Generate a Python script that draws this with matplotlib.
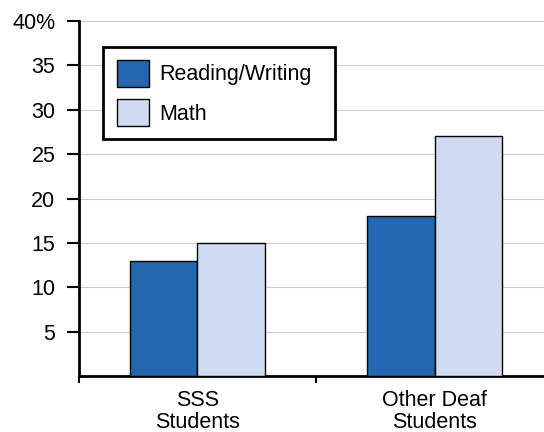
import numpy as np
import matplotlib.pyplot as plt

groups = ['SSS\nStudents', 'Other Deaf\nStudents']
reading = [13, 18]
math = [15, 27]
series_names = ['Reading/Writing', 'Math']
yticks = [5, 10, 15, 20, 25, 30, 35, 40]
ylabels = ['5', '10', '15', '20', '25', '30', '35', '40%']

plt.rcParams['font.family'] = ['Liberation Sans', 'DejaVu Sans']
fs = 15.5

fig = plt.figure(figsize=(5.44, 4.32), dpi=100)
ax = fig.add_axes([0.1452, 0.1296, 0.8548, 0.8218])

x = np.arange(len(groups)) + 0.5
w = 0.283
ax.bar(x - w / 2, reading, w, color='#2566b0', edgecolor='black', linewidth=1, label=series_names[0], zorder=3)
ax.bar(x + w / 2, math, w, color='#cfdbf0', edgecolor='black', linewidth=1, label=series_names[1], zorder=3)

ax.set_xlim(0, 1.962)
ax.set_ylim(0, 40)
ax.set_yticks(yticks)
ax.set_yticklabels(ylabels, fontsize=fs)
ax.yaxis.grid(True, color='#cccccc', linewidth=0.8, zorder=0)

# ticks at group boundaries, labels at centres
ax.set_xticks([0, 1])
ax.set_xticklabels([])
ax.set_xticks(x, minor=True)
ax.set_xticklabels(groups, minor=True, fontsize=fs, linespacing=1.05)
ax.tick_params(axis='x', which='minor', length=0, pad=10)
ax.tick_params(axis='x', which='major', length=5, width=1.5, direction='out')
ax.tick_params(axis='y', direction='out', length=9, width=1.5, pad=8)

for s in ['top', 'right']:
    ax.spines[s].set_visible(False)
for s in ['left', 'bottom']:
    ax.spines[s].set_linewidth(2)

leg = ax.legend(loc='upper left', bbox_to_anchor=(0.052, 0.659, 0.498, 0.268), mode='expand',
                borderaxespad=0, fontsize=fs, frameon=True, fancybox=False, edgecolor='black',
                framealpha=1, handlelength=1.5, handleheight=1.5, labelspacing=0.6,
                borderpad=0.62, handletextpad=0.5)
leg.get_frame().set_linewidth(2)

fig.savefig('out.png', dpi=100)
